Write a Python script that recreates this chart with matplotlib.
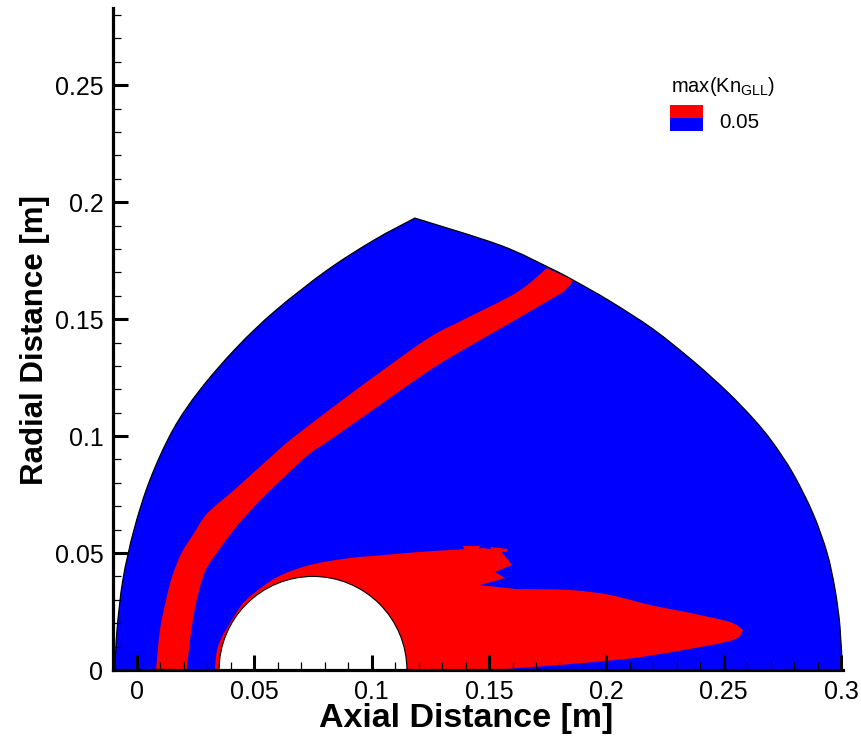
import numpy as np
import matplotlib.pyplot as plt
from matplotlib.patches import PathPatch, Circle, Rectangle, Polygon
from matplotlib.path import Path
from matplotlib.ticker import MultipleLocator

plt.rcParams['font.family'] = ['Liberation Sans', 'DejaVu Sans']
plt.rcParams['mathtext.fontset'] = 'custom'
plt.rcParams['mathtext.rm'] = 'Liberation Sans'
plt.rcParams['mathtext.it'] = 'Liberation Sans'

# domain boundary: left arc (bottom -> apex) and right arc (apex -> bottom)
left_x = [-0.0094, -0.0085, -0.0060, -0.0013, 0.0055, 0.0153, 0.0268, 0.0426, 0.0592,
          0.0810, 0.1010, 0.1184]
left_y = [0.0, 0.0171, 0.0385, 0.0598, 0.0812, 0.1026, 0.1197, 0.1380, 0.1538,
          0.1709, 0.1838, 0.1932]
right_x = [0.1184, 0.1547, 0.1760, 0.1858, 0.2015, 0.2199, 0.2369, 0.2514, 0.2625,
           0.2706, 0.2795, 0.2880, 0.2940, 0.2974, 0.2995, 0.3005]
right_y = [0.1932, 0.1816, 0.1718, 0.1667, 0.1577, 0.1457, 0.1321, 0.1190, 0.1075,
           0.0976, 0.0840, 0.0669, 0.0500, 0.0344, 0.0184, 0.0]

# shock band, max(Kn_GLL) > 0.05: outer edge (bottom -> top), inner edge (top -> bottom)
band_out_x = [0.0081, 0.0098, 0.0124, 0.0150, 0.0190, 0.0240, 0.0300, 0.0409, 0.0494,
              0.0597, 0.0652, 0.0835, 0.1048, 0.1248, 0.1406, 0.1619, 0.1747]
band_out_y = [0.0, 0.0171, 0.0299, 0.0400, 0.0500, 0.0580, 0.0670, 0.0765, 0.0842,
              0.0935, 0.0983, 0.1124, 0.1282, 0.1423, 0.1505, 0.1615, 0.1718]
band_in_x = [0.1858, 0.1845, 0.1815, 0.1589, 0.1389, 0.1248, 0.1023, 0.0822, 0.0730,
             0.0614, 0.0520, 0.0430, 0.0354, 0.0290, 0.0250, 0.0226, 0.0213]
band_in_y = [0.1667, 0.1645, 0.1615, 0.1483, 0.1368, 0.1282, 0.1124, 0.0983, 0.0920,
             0.0812, 0.0720, 0.0620, 0.0520, 0.0420, 0.0278, 0.0128, 0.0]

# body layer + wake, max(Kn_GLL) > 0.05
wake_top_x = [0.0332, 0.0341, 0.0366, 0.0379, 0.0439, 0.0490, 0.0597, 0.0737, 0.0908,
              0.1048, 0.1193, 0.1334, 0.1474]
wake_top_y = [0.0, 0.0085, 0.0150, 0.0171, 0.0269, 0.0321, 0.0397, 0.0449, 0.0479,
              0.0491, 0.0504, 0.0513, 0.0521]
wake_rag_x = [0.1474, 0.1547, 0.1598, 0.1525, 0.1568, 0.1461, 0.1619]
wake_rag_y = [0.0521, 0.0513, 0.0449, 0.0419, 0.0393, 0.0363, 0.0346]
wake_tail_x = [0.1619, 0.1845, 0.2015, 0.2186, 0.2356, 0.2527, 0.2582, 0.2539, 0.2326,
               0.2113, 0.1900, 0.1687, 0.1504]
wake_tail_y = [0.0346, 0.0342, 0.0321, 0.0278, 0.0244, 0.0205, 0.0171, 0.0128, 0.0085,
               0.0051, 0.0030, 0.0013, 0.0]
tip = 6

islands = [
    ([0.1389, 0.1462, 0.1453, 0.1394], [0.0530, 0.0530, 0.0517, 0.0517]),
    ([0.1504, 0.1581, 0.1572, 0.1512], [0.0526, 0.0517, 0.0504, 0.0513]),
]

# sphere
body_x, body_y, body_r = 0.075, 0.0, 0.04

xticks = [0, 0.05, 0.1, 0.15, 0.2, 0.25, 0.3]
xlabels = ['0', '0.05', '0.1', '0.15', '0.2', '0.25', '0.3']
yticks = [0, 0.05, 0.1, 0.15, 0.2, 0.25]
ylabels = ['0', '0.05', '0.1', '0.15', '0.2', '0.25']

blue = '#0000ff'
red = '#ff0000'


def smooth(xs, ys):
    # bezier pieces passing through every read point
    p = np.column_stack([xs, ys])
    ext = np.vstack([p[0], p, p[-1]])
    verts = []
    for i in range(len(p) - 1):
        p0, p1, p2, p3 = ext[i], ext[i + 1], ext[i + 2], ext[i + 3]
        verts += [p1 + (p2 - p0) / 6, p2 - (p3 - p1) / 6, p2]
    return verts, [Path.CURVE4] * len(verts)


def build(pieces, close=True):
    verts, codes = [], []
    for kind, xs, ys in pieces:
        if not verts:
            verts.append((xs[0], ys[0]))
            codes.append(Path.MOVETO)
        elif (xs[0], ys[0]) != tuple(verts[-1]):
            verts.append((xs[0], ys[0]))
            codes.append(Path.LINETO)
        if kind == 'smooth':
            v, c = smooth(xs, ys)
        else:
            v = list(zip(xs[1:], ys[1:]))
            c = [Path.LINETO] * len(v)
        verts += [tuple(q) for q in v]
        codes += c
    if close:
        verts.append(verts[0])
        codes.append(Path.CLOSEPOLY)
    return Path(verts, codes)


fig = plt.figure(figsize=(8.62, 7.42), dpi=100)
ax = fig.add_axes([0.1311, 0.0970, 0.8469, 0.8922])

dom = [('smooth', left_x, left_y), ('smooth', right_x, right_y)]
ax.add_patch(PathPatch(build(dom), fc=blue, ec='none', zorder=0.5))
band = [('smooth', band_out_x, band_out_y),
        ('line', [band_out_x[-1]] + band_in_x[:3], [band_out_y[-1]] + band_in_y[:3]),
        ('smooth', band_in_x[2:], band_in_y[2:])]
ax.add_patch(PathPatch(build(band), fc=red, ec='none', zorder=0.6))
wake = [('smooth', wake_top_x, wake_top_y), ('line', wake_rag_x, wake_rag_y),
        ('smooth', wake_tail_x[:tip + 1], wake_tail_y[:tip + 1]),
        ('smooth', wake_tail_x[tip:], wake_tail_y[tip:])]
ax.add_patch(PathPatch(build(wake), fc=red, ec='none', zorder=0.6))
for ix, iy in islands:
    ax.add_patch(Polygon(np.column_stack([ix, iy]), closed=True, fc=red, ec='none', zorder=0.6))
ax.add_patch(PathPatch(build(dom, close=False), fc='none', ec='black', lw=0.9, zorder=0.8))
ax.add_patch(Circle((body_x, body_y), body_r, fc='white', ec='black', lw=0.8, zorder=0.9))

ax.set_xlim(-0.0102, 0.3008)
ax.set_ylim(0, 0.283)

for s in ['top', 'right']:
    ax.spines[s].set_visible(False)
for s in ['left', 'bottom']:
    ax.spines[s].set_linewidth(2.3)

ax.set_xticks(xticks)
ax.set_xticklabels(xlabels)
ax.set_yticks(yticks)
ax.set_yticklabels(ylabels)
ax.xaxis.set_minor_locator(MultipleLocator(0.01))
ax.yaxis.set_minor_locator(MultipleLocator(0.01))
ax.tick_params(which='major', direction='in', length=11, width=2.2, labelsize=18, pad=7)
ax.tick_params(which='minor', direction='in', length=6, width=0.9)

ax.set_xlabel('Axial Distance [m]', fontsize=24.5, fontweight='bold')
ax.set_ylabel('Radial Distance [m]', fontsize=22.5, fontweight='bold')
ax.xaxis.set_label_coords(0.4836, -0.0725, transform=ax.transAxes)
ax.yaxis.set_label_coords(-0.107, 0.4985, transform=ax.transAxes)
ax.xaxis.label.set_va('center')
ax.yaxis.label.set_va('center')

# legend
fig.text(0.778, 0.876, r'max(Kn$_{\mathrm{GLL}}$)', fontsize=14.5, va='baseline')
fig.add_artist(Rectangle((0.7773, 0.8410), 0.0383, 0.0170, transform=fig.transFigure, fc=red, ec='none'))
fig.add_artist(Rectangle((0.7773, 0.8240), 0.0383, 0.0170, transform=fig.transFigure, fc=blue, ec='none'))
fig.text(0.834, 0.8275, '0.05', fontsize=14.8, va='baseline')

fig.savefig('out.png', dpi=100)
